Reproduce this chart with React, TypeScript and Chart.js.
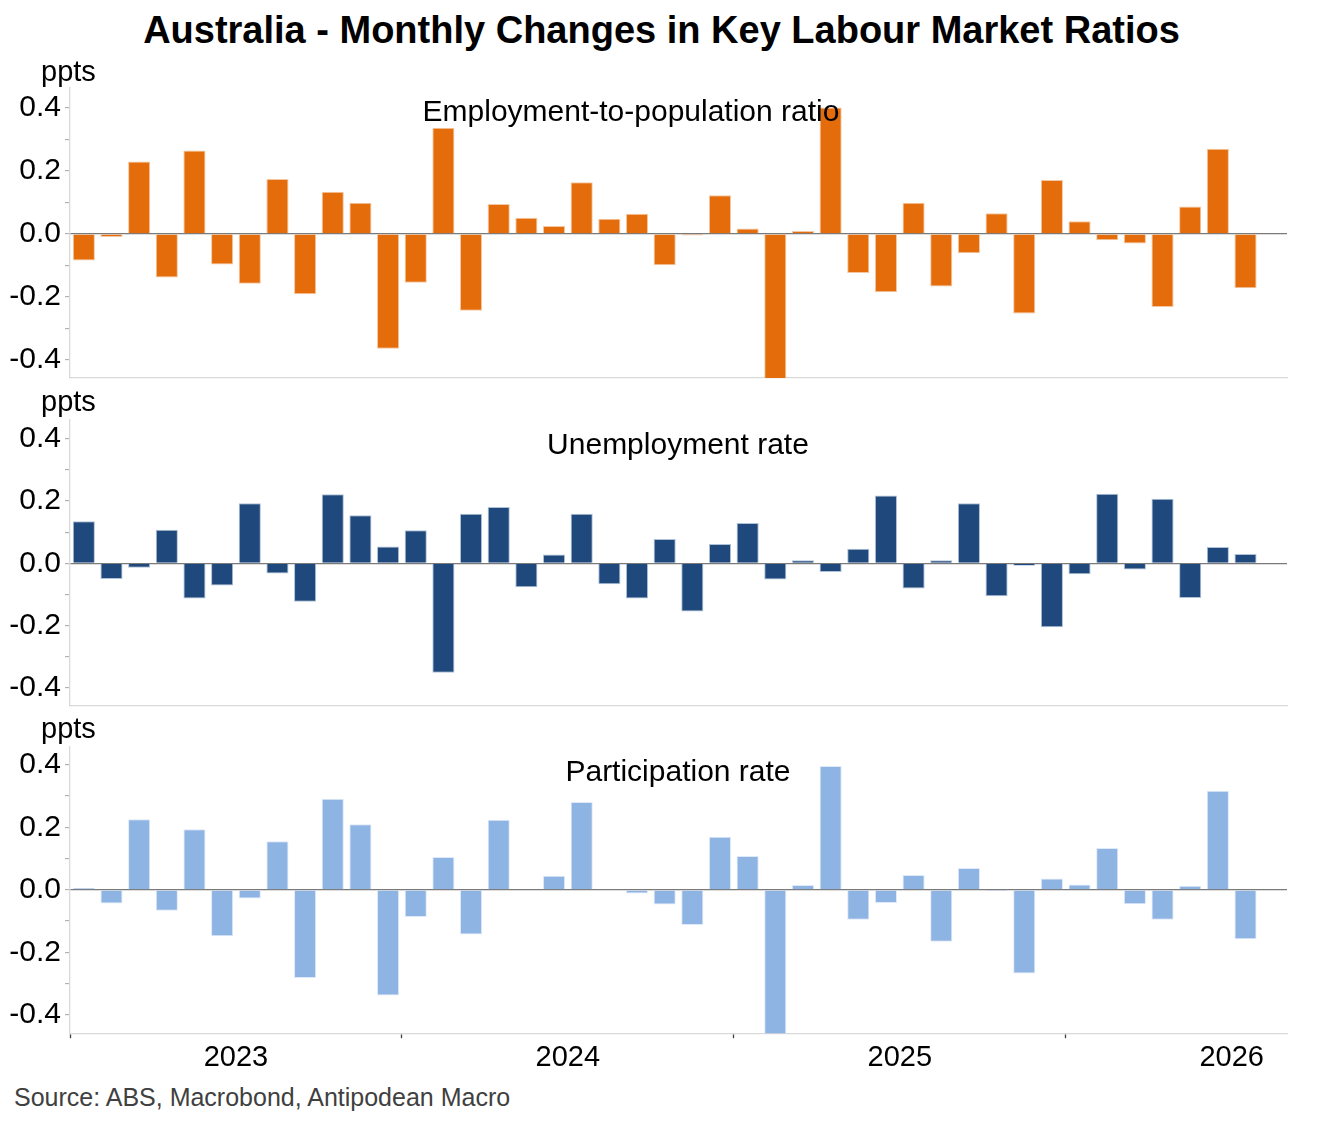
import React, { useEffect, useRef } from 'react';
import { Chart, registerables } from 'chart.js';

Chart.register(...registerables);

// Monthly observations, Jan 2023 .. Jul 2026 (axis spans 44 monthly slots)
const MONTHS = [
  '2023-01', '2023-02', '2023-03', '2023-04', '2023-05', '2023-06', '2023-07', '2023-08', '2023-09', '2023-10', '2023-11', '2023-12',
  '2024-01', '2024-02', '2024-03', '2024-04', '2024-05', '2024-06', '2024-07', '2024-08', '2024-09', '2024-10', '2024-11', '2024-12',
  '2025-01', '2025-02', '2025-03', '2025-04', '2025-05', '2025-06', '2025-07', '2025-08', '2025-09', '2025-10', '2025-11', '2025-12',
  '2026-01', '2026-02', '2026-03', '2026-04', '2026-05', '2026-06', '2026-07',
];

const EMP_POP = [
  -0.084, -0.010, 0.230, -0.138, 0.265, -0.097, -0.158, 0.174, -0.191, 0.134, 0.099, -0.364,
  -0.155, 0.337, -0.244, 0.095, 0.051, 0.025, 0.164, 0.048, 0.064, -0.099, -0.005, 0.123,
  0.017, -0.470, 0.009, 0.401, -0.124, -0.185, 0.099, -0.167, -0.061, 0.066, -0.252, 0.171,
  0.040, -0.020, -0.030, -0.232, 0.087, 0.270, -0.172,
];

const UNEMP = [
  0.135, -0.050, -0.014, 0.108, -0.113, -0.071, 0.193, -0.033, -0.123, 0.222, 0.154, 0.054,
  0.106, -0.351, 0.159, 0.181, -0.077, 0.028, 0.159, -0.067, -0.113, 0.078, -0.155, 0.062,
  0.129, -0.052, 0.010, -0.028, 0.047, 0.218, -0.081, 0.010, 0.193, -0.106, -0.008, -0.205,
  -0.035, 0.223, -0.020, 0.207, -0.111, 0.052, 0.030,
];

const PARTIC = [
  0.006, -0.044, 0.226, -0.067, 0.194, -0.149, -0.028, 0.155, -0.282, 0.291, 0.210, -0.338,
  -0.087, 0.105, -0.143, 0.224, 0.000, 0.045, 0.281, 0.003, -0.012, -0.047, -0.113, 0.170,
  0.108, -0.470, 0.015, 0.396, -0.096, -0.042, 0.047, -0.166, 0.070, -0.005, -0.268, 0.036,
  0.017, 0.134, -0.046, -0.096, 0.013, 0.317, -0.158,
];

const YEAR_LABELS = ['2023', '2024', '2025', '2026'];
const SLOTS = 44;

const FONT = 'Liberation Sans, Arial, Helvetica, sans-serif';

type PanelProps = {
  values: number[];
  color: string;
  border: string;
  top: number;
  height: number;
  showX: boolean;
  yMin: number;
  yMax: number;
};

function Panel({ values, color, border, top, height, showX, yMin, yMax }: PanelProps) {
  const ref = useRef<HTMLCanvasElement | null>(null);

  useEffect(() => {
    if (!ref.current) return;
    const chart = new Chart(ref.current, {
      type: 'bar',
      data: {
        datasets: [
          {
            label: MONTHS[0],
            data: values.map((v, i) => ({ x: i + 0.5, y: v })),
            backgroundColor: color,
            borderColor: border,
            borderWidth: 1,
            barPercentage: 1,
            categoryPercentage: 0.8,
          } as any,
        ],
      },
      options: {
        responsive: false,
        maintainAspectRatio: false,
        animation: false,
        layout: { padding: { top: 30, bottom: showX ? 0 : 30, left: 0, right: 36 } },
        plugins: {
          legend: { display: false },
          tooltip: { enabled: false },
          title: { display: false },
        },
        scales: {
          x: {
            type: 'linear',
            min: 0,
            max: SLOTS,
            offset: false,
            grid: {
              display: true,
              drawOnChartArea: false,
              drawTicks: showX,
              tickLength: 5,
              tickWidth: 1.3,
              offset: false,
              tickColor: (ctx: any) =>
                ctx.tick && Math.round(ctx.tick.value) % 12 === 0 ? '#404040' : 'rgba(0,0,0,0)',
            },
            border: { display: true, color: '#d9d9d9', width: 1.3 },
            ticks: {
              display: showX,
              stepSize: 6,
              autoSkip: false,
              maxRotation: 0,
              minRotation: 0,
              includeBounds: false,
              padding: 2,
              color: '#000000',
              font: { family: FONT, size: 29 },
              callback: (v: any) => {
                const n = Math.round(Number(v));
                return n % 12 === 6 ? YEAR_LABELS[(n - 6) / 12] : '';
              },
            },
          },
          y: {
            min: yMin,
            max: yMax,
            afterFit: (s: any) => {
              s.width = 70;
            },
            grid: {
              color: (ctx: any) =>
                ctx.tick && Math.abs(ctx.tick.value) < 1e-9 ? '#7a7a7a' : 'rgba(0,0,0,0)',
              lineWidth: 1.3,
              tickColor: '#a6a6a6',
              tickLength: 5,
              tickWidth: 1,
            },
            border: { display: true, color: '#d9d9d9', width: 1.3 },
            ticks: {
              stepSize: 0.1,
              includeBounds: false,
              autoSkip: false,
              padding: 4,
              color: '#000000',
              font: { family: FONT, size: 30 },
              callback: (v: any) => {
                const n = Math.round(Number(v) * 10);
                if (n % 2 !== 0) return '';
                if (n === 0) return '0.0';
                return (n / 10).toFixed(1);
              },
            },
          },
        },
      } as any,
    });
    return () => chart.destroy();
  }, [values, color, border, showX, yMin, yMax]);

  return (
    <canvas
      ref={ref}
      width={1323}
      height={height}
      style={{ position: 'absolute', left: 0, top, width: 1323, height }}
    />
  );
}

function Text({
  text,
  size,
  baseline,
  left,
  width,
  align = 'left',
  bold = false,
  color = '#000000',
}: {
  text: string;
  size: number;
  baseline: number;
  left: number;
  width: number;
  align?: 'left' | 'center';
  bold?: boolean;
  color?: string;
}) {
  return (
    <div
      style={{
        position: 'absolute',
        left,
        width,
        top: baseline - 0.8465 * size,
        fontFamily: FONT,
        fontSize: size,
        lineHeight: `${size}px`,
        fontWeight: bold ? 700 : 400,
        color,
        textAlign: align,
        whiteSpace: 'nowrap',
        pointerEvents: 'none',
      }}
    >
      {text}
    </div>
  );
}

export default function App() {
  return (
    <div
      style={{
        position: 'absolute',
        left: 0,
        top: 0,
        width: 1323,
        height: 1122,
        overflow: 'hidden',
        background: '#ffffff',
      }}
    >
      <Panel values={EMP_POP} color="#E46C0A" border="#F4C8A2" top={58} height={350} showX={false} yMin={-0.457} yMax={0.463} />
      <Panel values={UNEMP} color="#1F497D" border="#AFC1D6" top={390} height={346} showX={false} yMin={-0.458} yMax={0.46} />
      <Panel values={PARTIC} color="#8EB4E3" border="#DFE9F7" top={717} height={360} showX={true} yMin={-0.459} yMax={0.457} />

      <Text
        text="Australia - Monthly Changes in Key Labour Market Ratios"
        size={38}
        bold
        baseline={43}
        left={0}
        width={1323}
        align="center"
      />
      <Text text="ppts" size={29} baseline={82} left={41} width={100} />
      <Text text="ppts" size={29} baseline={412} left={41} width={100} />
      <Text text="ppts" size={29} baseline={739} left={41} width={100} />

      <Text text="Employment-to-population ratio" size={30} baseline={121} left={631 - 300} width={600} align="center" />
      <Text text="Unemployment rate" size={30} baseline={454} left={678 - 300} width={600} align="center" />
      <Text text="Participation rate" size={30} baseline={781} left={678 - 300} width={600} align="center" />

      <Text text="Source: ABS, Macrobond, Antipodean Macro" size={25} baseline={1106} left={14} width={700} color="#404040" />
    </div>
  );
}
